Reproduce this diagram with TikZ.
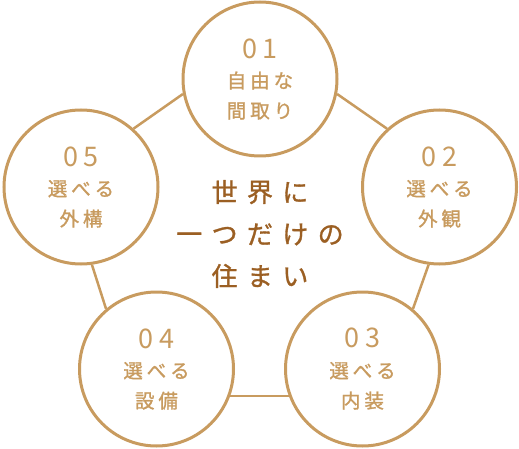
\documentclass[tikz,border=0pt]{standalone}
\usepackage{fontspec}
\setmainfont{Noto Sans CJK JP}
\newfontfamily\numfam[LetterSpace=22]{Noto Sans CJK JP}
\newfontfamily\jpfam[LetterSpace=20,FakeBold=1.2]{Noto Sans CJK JP}
\newfontfamily\corefam[LetterSpace=36,FakeBold=1.2]{Noto Sans CJK JP}
\definecolor{ringtan}{RGB}{200,155,95}
\definecolor{corebrown}{RGB}{155,95,35}
\newcommand{\nr}[1]{{\fontsize{27pt}{30pt}\selectfont\numfam #1}}
\newcommand{\jp}[1]{{\jpfam #1}}

\begin{document}
\begin{tikzpicture}[x=1pt, y=-1pt,
  ring/.style={circle, draw=ringtan, line width=3pt, fill=white,
    minimum size=154pt, inner sep=0pt, align=center, text=ringtan,
    font=\fontsize{19.5pt}{30pt}\selectfont},
  link/.style={draw=ringtan, line width=2.5pt},
  core/.style={align=center, text=corebrown,
    font=\fontsize{26pt}{42pt}\selectfont\corefam}]
  \useasboundingbox (0,0) rectangle (519,449);
  % five circles
  \node[ring] (c1) at (260,79) {\nr{01}\\\jp{自由な}\\\jp{間取り}};
  \node[ring] (c2) at (439.5,187) {\nr{02}\\\jp{選べる}\\\jp{外観}};
  \node[ring] (c3) at (362.5,369) {\nr{03}\\\jp{選べる}\\\jp{内装}};
  \node[ring] (c4) at (156.5,369) {\nr{04}\\\jp{選べる}\\\jp{設備}};
  \node[ring] (c5) at (81,187) {\nr{05}\\\jp{選べる}\\\jp{外構}};
  % links between them
  \draw[link] (c1.191) -- (c5.48);
  \draw[link] (c1.-11) -- (c2.132);
  \draw[link] (c2.-98) -- (c3.50);
  \draw[link] (c3.200) -- (c4.-20);
  \draw[link] (c4.130) -- (c5.-82);
  % middle
  \node[core] (mid) at (260,234) {世界に\\一つだけの\\住まい};
\end{tikzpicture}
\end{document}
